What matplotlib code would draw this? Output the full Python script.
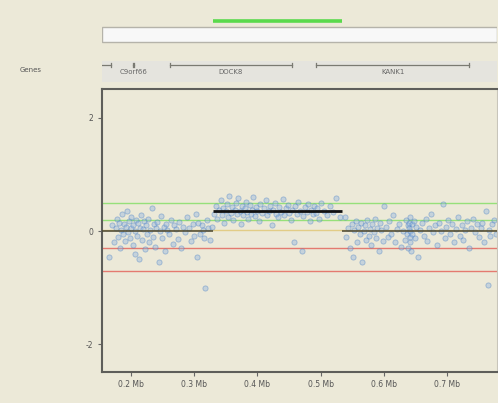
import matplotlib
matplotlib.use("Agg")
import matplotlib.pyplot as plt
from matplotlib.patches import Rectangle
from matplotlib.ticker import FuncFormatter

plt.rcParams['axes.unicode_minus'] = False
plt.rcParams['font.family'] = ['DejaVu Sans']

# probe positions (Mb) and log ratios in three stretches
left_pos = [0.166, 0.170, 0.173, 0.176, 0.178, 0.180, 0.181, 0.183, 0.185, 0.186,
            0.188, 0.189, 0.191, 0.192, 0.194, 0.195, 0.197, 0.198, 0.200, 0.201,
            0.203, 0.204, 0.206, 0.207, 0.209, 0.210, 0.212, 0.213, 0.215, 0.216,
            0.218, 0.219, 0.221, 0.222, 0.224, 0.226, 0.227, 0.229, 0.231, 0.233,
            0.235, 0.237, 0.238, 0.240, 0.242, 0.244, 0.246, 0.248, 0.250, 0.252,
            0.254, 0.256, 0.258, 0.261, 0.263, 0.266, 0.268, 0.271, 0.274, 0.277,
            0.280, 0.283, 0.286, 0.289, 0.292, 0.295, 0.298, 0.300, 0.303, 0.305,
            0.307, 0.310, 0.312, 0.314, 0.316, 0.318, 0.320, 0.322, 0.325, 0.328]
left_ratio = [-0.45, 0.10, -0.20, 0.05, 0.22, -0.10, 0.15, -0.30, 0.02, 0.30,
              -0.05, 0.12, -0.18, 0.08, 0.35, -0.02, 0.18, -0.12, 0.05, 0.25,
              -0.25, 0.10, -0.40, 0.00, 0.20, -0.08, 0.14, -0.50, 0.06, 0.28,
              -0.15, 0.03, 0.18, -0.32, 0.10, -0.05, 0.22, -0.20, 0.02, 0.40,
              -0.10, 0.12, -0.28, 0.06, 0.16, -0.55, 0.00, 0.26, -0.12, 0.08,
              -0.36, 0.12, 0.02, -0.06, 0.20, -0.22, 0.10, 0.04, -0.14, 0.16,
              -0.30, 0.08, -0.02, 0.24, 0.05, -0.18, 0.12, -0.08, 0.30, -0.45,
              0.15, -0.05, 0.10, 0.02, -0.12, -1.00, 0.20, 0.05, -0.15, 0.08]

mid_pos = [0.332, 0.335, 0.337, 0.340, 0.342, 0.344, 0.346, 0.348, 0.350, 0.352,
           0.354, 0.356, 0.358, 0.360, 0.362, 0.364, 0.366, 0.368, 0.370, 0.372,
           0.374, 0.376, 0.378, 0.380, 0.382, 0.384, 0.386, 0.388, 0.390, 0.392,
           0.394, 0.396, 0.398, 0.400, 0.403, 0.405, 0.408, 0.410, 0.413, 0.415,
           0.418, 0.420, 0.423, 0.425, 0.428, 0.430, 0.433, 0.435, 0.438, 0.440,
           0.443, 0.445, 0.448, 0.450, 0.453, 0.455, 0.458, 0.460, 0.463, 0.465,
           0.468, 0.470, 0.473, 0.475, 0.478, 0.480, 0.483, 0.485, 0.488, 0.490,
           0.493, 0.495, 0.498, 0.500, 0.505, 0.510, 0.515, 0.520, 0.525, 0.530]
mid_ratio = [0.30, 0.45, 0.22, 0.38, 0.55, 0.28, 0.40, 0.15, 0.35, 0.48,
             0.25, 0.62, 0.32, 0.42, 0.20, 0.38, 0.50, 0.30, 0.58, 0.36,
             0.12, 0.44, 0.28, 0.40, 0.52, 0.34, 0.22, 0.46, 0.30, 0.38,
             0.60, 0.26, 0.42, 0.35, 0.18, 0.48, 0.32, 0.40, 0.55, 0.28,
             0.36, 0.44, 0.10, 0.38, 0.50, 0.30, 0.24, 0.42, 0.34, 0.56,
             0.28, 0.40, 0.46, 0.32, 0.20, 0.38, -0.20, 0.44, 0.30, 0.52,
             0.36, -0.35, 0.26, 0.42, 0.34, 0.48, 0.18, 0.38, 0.30, 0.45,
             0.32, 0.40, 0.22, 0.50, 0.36, 0.28, 0.44, 0.34, 0.58, 0.25]

right_pos = [0.538, 0.541, 0.544, 0.546, 0.549, 0.551, 0.553, 0.556, 0.558, 0.560,
             0.562, 0.564, 0.566, 0.568, 0.570, 0.572, 0.574, 0.576, 0.578, 0.580,
             0.582, 0.584, 0.586, 0.588, 0.590, 0.592, 0.594, 0.596, 0.598, 0.600,
             0.603, 0.606, 0.609, 0.612, 0.615, 0.618, 0.621, 0.624, 0.627, 0.630,
             0.633, 0.635, 0.637, 0.638, 0.639, 0.640, 0.640, 0.641, 0.641, 0.642,
             0.642, 0.643, 0.644, 0.645, 0.647, 0.649, 0.651, 0.654, 0.657, 0.660,
             0.663, 0.666, 0.669, 0.672, 0.675, 0.678, 0.681, 0.684, 0.687, 0.690,
             0.693, 0.696, 0.699, 0.702, 0.705, 0.708, 0.711, 0.714, 0.717, 0.720,
             0.723, 0.726, 0.729, 0.732, 0.735, 0.738, 0.741, 0.744, 0.747, 0.750,
             0.753, 0.756, 0.759, 0.762, 0.764, 0.766, 0.768, 0.771, 0.774, 0.777]
right_ratio = [0.25, -0.10, 0.05, -0.30, 0.12, -0.45, 0.02, 0.18, -0.20, 0.08,
               -0.05, 0.15, -0.55, 0.00, 0.10, -0.15, 0.20, -0.08, 0.04, -0.25,
               0.12, -0.02, 0.22, -0.12, 0.06, -0.35, 0.15, 0.02, -0.18, 0.45,
               0.08, -0.10, 0.18, -0.05, 0.28, -0.20, 0.04, 0.12, -0.28, 0.00,
               -0.15, 0.20, -0.05, 0.10, -0.30, 0.05, 0.15, -0.20, 0.25, -0.10,
               0.00, -0.35, 0.12, -0.05, 0.18, -0.12, 0.08, -0.45, 0.02, 0.14,
               -0.08, 0.22, -0.18, 0.05, 0.30, -0.02, 0.10, -0.25, 0.15, 0.00,
               0.48, -0.12, 0.08, 0.20, -0.05, 0.12, -0.20, 0.04, 0.25, -0.08,
               0.10, -0.15, 0.02, 0.18, -0.30, 0.06, 0.22, -0.02, 0.12, -0.10,
               0.05, 0.15, -0.20, 0.35, -0.95, 0.02, -0.08, 0.12, 0.20, -0.05]

# segmentation result
seg_start = [0.154, 0.330, 0.534]
seg_end = [0.330, 0.534, 0.779]
seg_mean = [0.00, 0.35, 0.00]

gain_thresholds = [0.2, 0.5]
loss_thresholds = [-0.3, -0.7]

# genes track
gene_names = ['', 'C9orf66', 'DOCK8', 'KANK1']
gene_start = [0.140, 0.2035, 0.262, 0.493]
gene_end = [0.169, 0.2045, 0.455, 0.735]

x_ticks = [0.2, 0.3, 0.4, 0.5, 0.6, 0.7]
y_ticks = [-2, 0, 2]
x_range = (0.154, 0.779)
y_range = (-2.49, 2.51)

bg = '#ECE9D8'
text_col = '#555555'
W, H = 498, 403

fig = plt.figure(figsize=(W / 100, H / 100), dpi=100, facecolor=bg)

ax_left, ax_right, ax_top, ax_bottom = 101.7, 497.0, 89.0, 372.0
ax = fig.add_axes([ax_left / W, 1 - ax_bottom / H,
                   (ax_right - ax_left) / W, (ax_bottom - ax_top) / H])
ax.set_facecolor(bg)

# threshold lines
for t in gain_thresholds:
    ax.axhline(t, color='#96e07a', lw=1.0, zorder=1)
for t in loss_thresholds:
    ax.axhline(t, color='#e47a70', lw=1.0, zorder=1)
ax.axhline(0.015, color='#e2cc86', lw=1.0, zorder=1)

# probes
all_pos = left_pos + mid_pos + right_pos
all_ratio = left_ratio + mid_ratio + right_ratio
ax.scatter(all_pos, all_ratio, s=14, facecolor='#8fb4e0', edgecolor='#3f78c4',
           linewidths=0.6, alpha=0.42, zorder=2)

# segments
for s, e, m in zip(seg_start, seg_end, seg_mean):
    lw = 2.0 if m != 0 else 1.1
    col = '#111111' if m != 0 else '#4a4630'
    ax.plot([s, e], [m, m], color=col, lw=lw, zorder=3, solid_capstyle='butt')

ax.set_xlim(*x_range)
ax.set_ylim(*y_range)
ax.set_xticks(x_ticks)
ax.set_yticks(y_ticks)
ax.xaxis.set_major_formatter(FuncFormatter(lambda v, p: f"{v:.1f} Mb"))
ax.yaxis.set_major_formatter(FuncFormatter(lambda v, p: f"{v:.0f}"))
ax.tick_params(axis='both', length=3, width=0.8, color='#666666',
               labelsize=5.5, labelcolor=text_col, pad=3)
for side in ['left', 'bottom', 'top']:
    ax.spines[side].set_color('#5e5e5a')
    ax.spines[side].set_linewidth(1.5)
ax.spines['right'].set_color('#c8c5ba')

# top track area, y in pixel units
tr = fig.add_axes([ax_left / W, 1 - 88 / H, (ax_right - ax_left) / W, 88 / H])
tr.set_xlim(*x_range)
tr.set_ylim(88, 0)
tr.axis('off')

# gain summary bar
for s, e, m in zip(seg_start, seg_end, seg_mean):
    if m > gain_thresholds[0]:
        tr.plot([s, e], [21, 21], color='#5ada4c', lw=2.6, solid_capstyle='butt')

tr.add_patch(Rectangle((x_range[0], 26.5), x_range[1] - x_range[0], 15.5,
                       facecolor='#f8f8f8', edgecolor='#b5b3aa', lw=1.0))
tr.add_patch(Rectangle((x_range[0], 61), x_range[1] - x_range[0], 21,
                       facecolor='#e5e4de', edgecolor='none'))

for name, s, e in zip(gene_names, gene_start, gene_end):
    tr.plot([s, e], [65, 65], color='#7a7a72', lw=0.9)
    tr.plot([s, s], [63, 67], color='#7a7a72', lw=0.9)
    tr.plot([e, e], [63, 67], color='#7a7a72', lw=0.9)
    if name:
        tr.text((s + e) / 2, 72.5, name, ha='center', va='center',
                fontsize=5, color='#666666')

fig.text(20 / W, 1 - 70.5 / H, 'Genes', ha='left', va='center',
         fontsize=5, color='#555555')

fig.savefig('out.png', dpi=100, facecolor=bg)
